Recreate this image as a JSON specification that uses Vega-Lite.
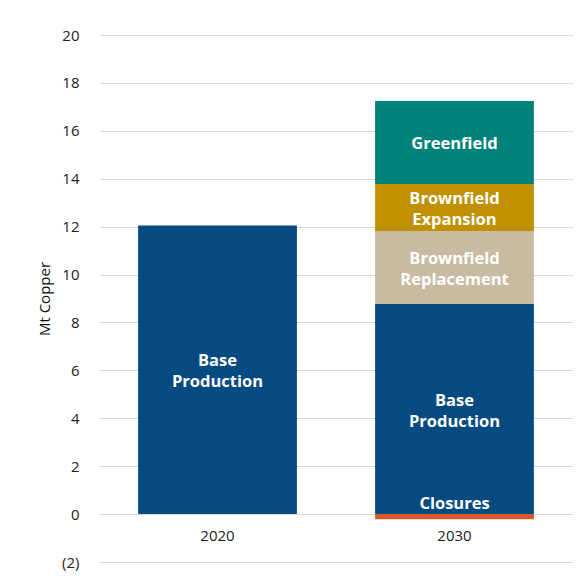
{
  "$schema": "https://vega.github.io/schema/vega-lite/v6.json",
  "width": 474,
  "height": 527,
  "autosize": {"type": "none"},
  "padding": {"left": 99, "top": 35, "right": 14, "bottom": 26},
  "background": "white",
  "config": {"view": {"stroke": null}, "font": "Open Sans"},
  "data": {"values": [
    {"year": "2020", "segment": "Base Production", "label": "Base\nProduction", "value": 12.05, "seq": 1},
    {"year": "2030", "segment": "Base Production", "label": "Base\nProduction", "value": 8.77, "seq": 1},
    {"year": "2030", "segment": "Brownfield Replacement", "label": "Brownfield\nReplacement", "value": 3.05, "seq": 2},
    {"year": "2030", "segment": "Brownfield Expansion", "label": "Brownfield\nExpansion", "value": 1.96, "seq": 3},
    {"year": "2030", "segment": "Greenfield", "label": "Greenfield", "value": 3.47, "seq": 4},
    {"year": "2030", "segment": "Closures", "label": "Closures", "value": -0.22, "seq": 0}
  ]},
  "transform": [
    {"stack": "value", "groupby": ["year"], "sort": [{"field": "seq"}], "as": ["v0", "v1"]},
    {"calculate": "(datum.v0 + datum.v1) / 2", "as": "mid"}
  ],
  "encoding": {
    "x": {"field": "year", "type": "nominal", "scale": {"paddingInner": 0.33, "paddingOuter": 0.165},
      "axis": {"title": null, "labelAngle": 0, "domain": false, "ticks": false, "tickSize": 0, "offset": -48, "labelPadding": 14, "labelFontSize": 15, "labelColor": "#222", "labelFont": "Open Sans"}}
  },
  "layer": [
    {
      "mark": {"type": "bar"},
      "encoding": {
        "y": {"field": "v0", "type": "quantitative", "scale": {"domain": [-2, 20], "nice": false},
          "axis": {"title": "Mt Copper", "values": [-2, 0, 2, 4, 6, 8, 10, 12, 14, 16, 18, 20], "domain": false, "ticks": false, "tickSize": 0, "labelPadding": 20, "labelFontSize": 15, "labelColor": "#222", "labelExpr": "datum.value < 0 ? '(' + abs(datum.value) + ')' : datum.value", "gridColor": "#d9d9d9", "titleFontSize": 15, "titleFontWeight": "normal", "titleColor": "#111", "titlePadding": 9, "titleFont": "Open Sans"}},
        "y2": {"field": "v1"},
        "color": {"field": "segment", "type": "nominal", "legend": null,
          "scale": {"domain": ["Base Production", "Brownfield Replacement", "Brownfield Expansion", "Greenfield", "Closures"],
            "range": ["#054A80", "#C9BBA1", "#BF9000", "#00827A", "#D65A2A"]}}
      }
    },
    {
      "transform": [{"filter": "datum.segment != 'Closures' && indexof(datum.label, '\\n') >= 0"}],
      "mark": {"type": "text", "color": "white", "fontWeight": "bold", "fontSize": 16.5, "lineBreak": "\n", "lineHeight": 21, "baseline": "middle", "dy": -8.5, "font": "Open Sans"},
      "encoding": {
        "y": {"field": "mid", "type": "quantitative"},
        "text": {"field": "label"}
      }
    },
    {
      "transform": [{"filter": "datum.segment == 'Greenfield'"}],
      "mark": {"type": "text", "color": "white", "fontWeight": "bold", "fontSize": 16.5, "baseline": "middle", "dy": 2, "font": "Open Sans"},
      "encoding": {
        "y": {"field": "mid", "type": "quantitative"},
        "text": {"field": "label"}
      }
    },
    {
      "transform": [{"filter": "datum.segment == 'Closures'"}],
      "mark": {"type": "text", "color": "white", "fontWeight": "bold", "fontSize": 16.5, "baseline": "bottom", "dy": -2, "font": "Open Sans"},
      "encoding": {
        "y": {"field": "v0", "type": "quantitative"},
        "text": {"field": "label"}
      }
    }
  ]
}
